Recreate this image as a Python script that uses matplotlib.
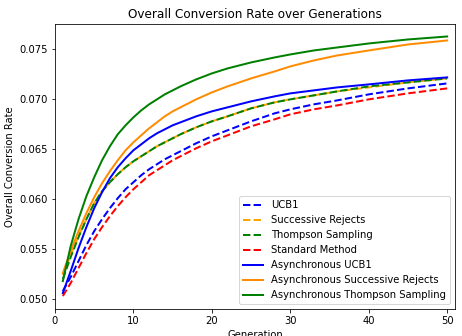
import matplotlib
matplotlib.use("Agg")
import matplotlib.pyplot as plt

generations = [1, 2, 3, 4, 5, 6, 7, 8, 9, 10, 11, 12, 13, 14, 15, 16,
               18, 20, 22, 25, 28, 30, 33, 36, 40, 45, 50]

ucb1 = [0.0508, 0.0522, 0.0538, 0.0554, 0.0568, 0.0580, 0.0591, 0.0601, 0.0610, 0.0617,
        0.0624, 0.0630, 0.0635, 0.0640, 0.0644, 0.0648,
        0.0656, 0.0663, 0.0669, 0.0678, 0.0686, 0.0690, 0.0695, 0.0699, 0.0705, 0.0711, 0.0716]
successive_rejects = [0.0524, 0.0544, 0.0563, 0.0580, 0.0596, 0.0608, 0.0617, 0.0625, 0.0632, 0.0638,
                      0.0643, 0.0648, 0.0653, 0.0657, 0.0661, 0.0665,
                      0.0672, 0.0678, 0.0683, 0.0691, 0.0697, 0.0700, 0.0704, 0.0708, 0.0712, 0.0717, 0.0721]
thompson = [0.0520, 0.0542, 0.0562, 0.0580, 0.0596, 0.0608, 0.0617, 0.0625, 0.0632, 0.0638,
            0.0643, 0.0648, 0.0653, 0.0657, 0.0661, 0.0665,
            0.0672, 0.0678, 0.0683, 0.0691, 0.0697, 0.0700, 0.0704, 0.0708, 0.0713, 0.0717, 0.0721]
standard = [0.0503, 0.0516, 0.0531, 0.0546, 0.0560, 0.0572, 0.0583, 0.0593, 0.0602, 0.0610,
            0.0617, 0.0624, 0.0629, 0.0634, 0.0639, 0.0643,
            0.0651, 0.0658, 0.0664, 0.0673, 0.0680, 0.0685, 0.0690, 0.0694, 0.0700, 0.0706, 0.0711]
async_ucb1 = [0.0506, 0.0528, 0.0551, 0.0572, 0.0591, 0.0607, 0.0621, 0.0632, 0.0641, 0.0649,
              0.0655, 0.0661, 0.0666, 0.0670, 0.0674, 0.0677,
              0.0683, 0.0688, 0.0692, 0.0698, 0.0703, 0.0706, 0.0709, 0.0712, 0.0715, 0.0719, 0.0722]
async_sr = [0.0526, 0.0548, 0.0568, 0.0586, 0.0602, 0.0616, 0.0628, 0.0639, 0.0649, 0.0657,
            0.0664, 0.0671, 0.0677, 0.0683, 0.0688, 0.0692,
            0.0700, 0.0707, 0.0713, 0.0721, 0.0728, 0.0733, 0.0739, 0.0744, 0.0749, 0.0755, 0.0759]
async_ts = [0.0518, 0.0553, 0.0580, 0.0603, 0.0622, 0.0639, 0.0653, 0.0665, 0.0674, 0.0682,
            0.0689, 0.0695, 0.0700, 0.0705, 0.0709, 0.0713,
            0.0720, 0.0726, 0.0731, 0.0737, 0.0742, 0.0745, 0.0749, 0.0752, 0.0756, 0.0760, 0.0763]

fig = plt.figure(figsize=(462 / 72, 336 / 72), dpi=72)
ax = fig.add_subplot(111)
fig.subplots_adjust(left=55 / 462, right=455 / 462, bottom=27 / 336, top=312.5 / 336)

lw = 2
ax.plot(generations, ucb1, "--", color="blue", lw=lw, label="UCB1")
ax.plot(generations, successive_rejects, "--", color="orange", lw=lw, label="Successive Rejects")
ax.plot(generations, thompson, "--", color="green", lw=lw, label="Thompson Sampling")
ax.plot(generations, standard, "--", color="red", lw=lw, label="Standard Method")
ax.plot(generations, async_ucb1, "-", color="blue", lw=lw, label="Asynchronous UCB1")
ax.plot(generations, async_sr, "-", color="darkorange", lw=lw, label="Asynchronous Successive Rejects")
ax.plot(generations, async_ts, "-", color="green", lw=lw, label="Asynchronous Thompson Sampling")

ax.set_xlim(0, 51)
ax.set_xticks([0, 10, 20, 30, 40, 50])
ax.set_yticks([0.050, 0.055, 0.060, 0.065, 0.070, 0.075])
ax.set_title("Overall Conversion Rate over Generations")
ax.set_xlabel("Generation")
ax.set_ylabel("Overall Conversion Rate")
ax.legend(loc="lower right")

fig.savefig("out.png", dpi=72)
